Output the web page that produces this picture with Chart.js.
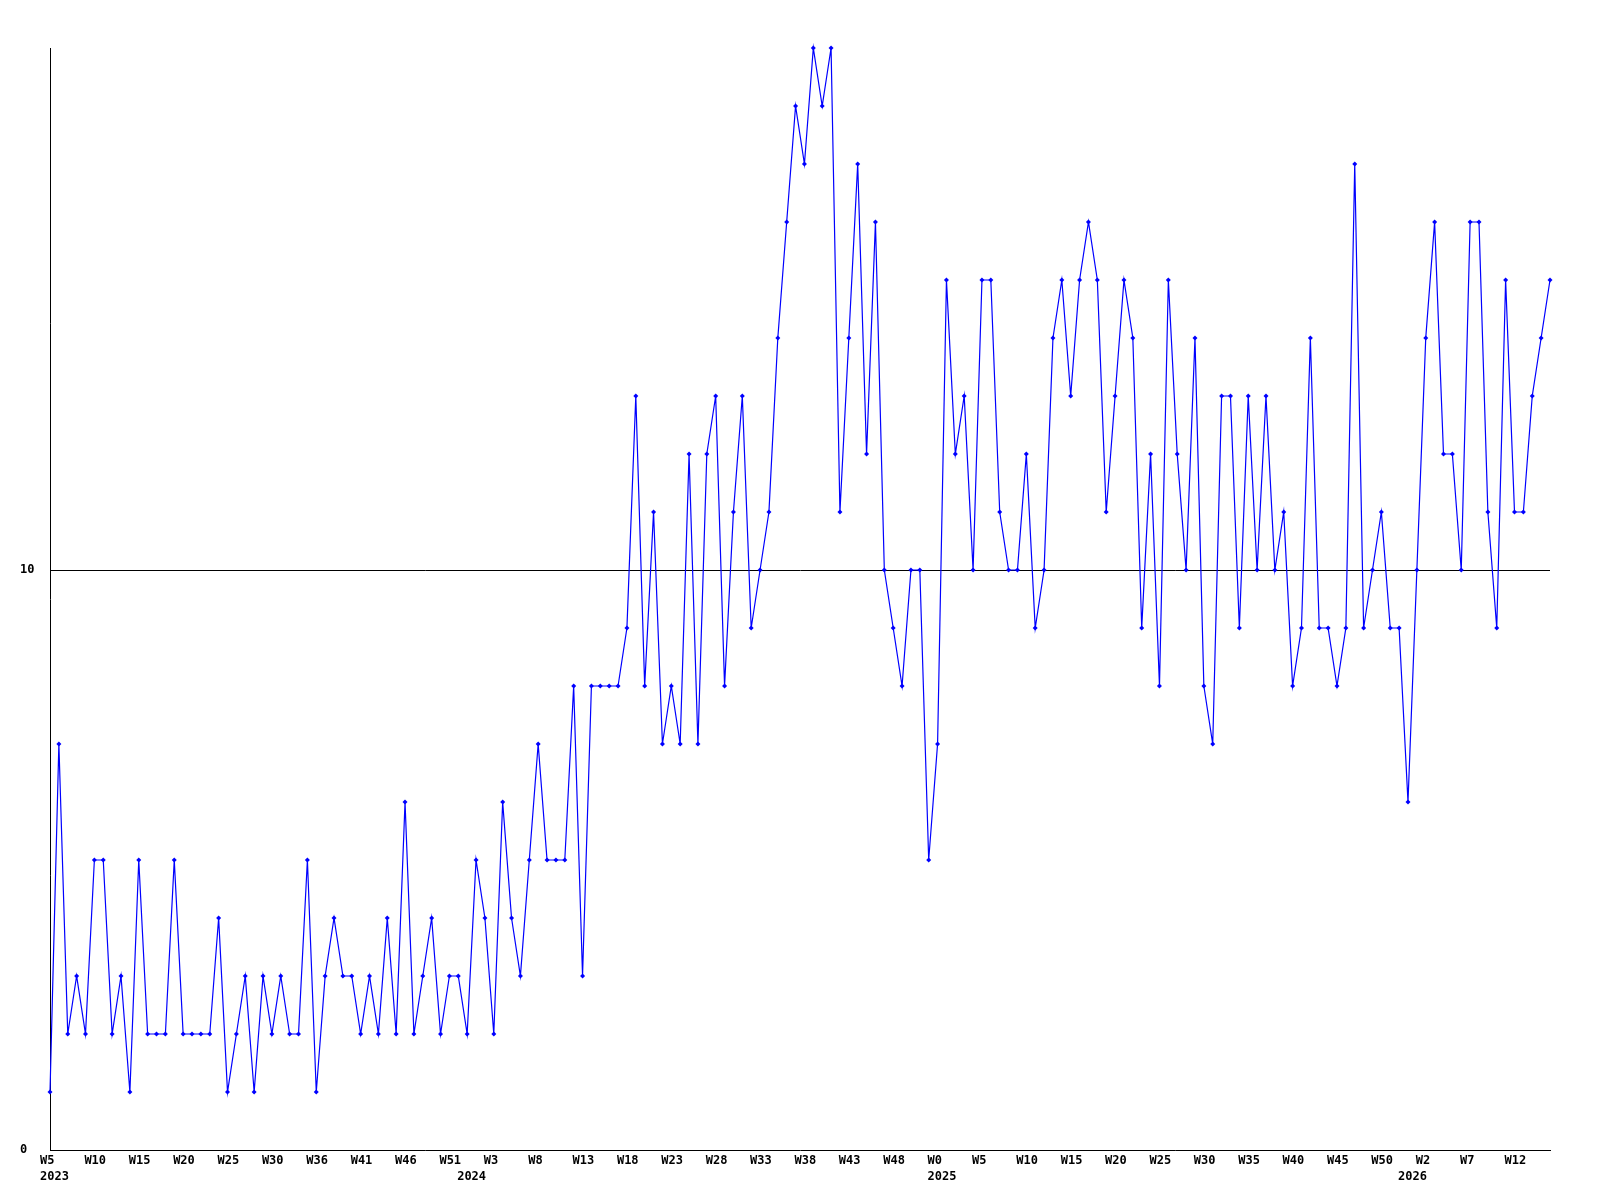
<!DOCTYPE html>
<html>
<head>
<meta charset="utf-8">
<script src="https://cdn.jsdelivr.net/npm/chart.js@4/dist/chart.umd.min.js"></script>
<style>
body { margin: 0; background: #fff; }
canvas { display: block; }
</style>
</head>
<body>
<canvas id="weekChart" width="1600" height="1200"></canvas>
<script>
// weekly counts, 2023 W5 -> 2026 W16
const counts = [
    1, 7, 2, 3, 2, 5, 5, 2, 3, 1, 5, 2, 2, 2, 5, 2, 2, 2,
    2, 4, 1, 2, 3, 1, 3, 2, 3, 2, 2, 5, 1, 3, 4, 3, 3, 2, 3, 2, 4,
    2, 6, 2, 3, 4, 2, 3, 3, 2, 5, 4, 2, 6, 4, 3, 5, 7, 5, 5, 5, 8,
    3, 8, 8, 8, 8, 9, 13, 8, 11, 7, 8, 7, 12, 7, 12, 13, 8, 11, 13, 9, 10, 11,
    14, 16, 18, 17, 19, 18, 19, 11, 14, 17, 12, 16, 10, 9, 8, 10, 10, 5, 7, 15, 12,
    13, 10, 15, 15, 11, 10, 10, 12, 9, 10, 14, 15, 13, 15, 16, 15, 11, 13, 15, 14, 9, 12,
    8, 15, 12, 10, 14, 8, 7, 13, 13, 9, 13, 10, 13, 10, 11, 8, 9, 14, 9, 9, 8,
    9, 17, 9, 10, 11, 9, 9, 6, 10, 14, 16, 12, 12, 10, 16, 16, 11, 9, 15, 11, 11, 13, 14, 15
];

// one week label every 5 points
const weekTicks = [
    'W5', 'W10', 'W15', 'W20', 'W25', 'W30', 'W36', 'W41', 'W46', 'W51',
    'W3', 'W8', 'W13', 'W18', 'W23', 'W28', 'W33', 'W38', 'W43', 'W48',
    'W0', 'W5', 'W10', 'W15', 'W20', 'W25', 'W30', 'W35', 'W40', 'W45', 'W50',
    'W2', 'W7', 'W12'
];
const tickEvery = 5;

// year label sits under the first week of each year
const years = ['2023', '2024', '2025', '2026'];
const yearStart = [0, 47, 100, 153];

const yTicks = [0, 10];
const yMax = 19;

const labels = counts.map((_, i) => {
    const week = i % tickEvery === 0 ? (weekTicks[i / tickEvery] || '') : '';
    const y = yearStart.indexOf(i);
    return [week, y >= 0 ? years[y] : ''];
});

const tickFont = { family: '"DejaVu Sans Mono", monospace', size: 12, weight: 'bold', lineHeight: 1.34 };

new Chart(document.getElementById('weekChart').getContext('2d'), {
    type: 'line',
    data: {
        labels: labels,
        datasets: [{
            data: counts,
            borderColor: '#0000ff',
            backgroundColor: '#0000ff',
            borderWidth: 1.2,
            tension: 0,
            fill: false,
            clip: false,
            pointStyle: 'rectRot',
            pointRadius: 2.5,
            pointBorderWidth: 0
        }]
    },
    options: {
        responsive: false,
        animation: false,
        layout: { padding: { left: 20, right: 50, top: 48, bottom: 0 } },
        plugins: {
            legend: { display: false },
            tooltip: { enabled: false }
        },
        scales: {
            x: {
                offset: false,
                grid: { display: false, drawTicks: false },
                border: { display: true, color: '#000', width: 1 },
                ticks: {
                    autoSkip: false,
                    maxRotation: 0,
                    minRotation: 0,
                    align: 'start',
                    labelOffset: -10,
                    padding: 3,
                    color: '#000',
                    font: tickFont
                },
                afterFit: scale => { scale.height = 50; }
            },
            y: {
                min: 0,
                max: yMax,
                afterBuildTicks: scale => { scale.ticks = yTicks.map(v => ({ value: v })); },
                grid: {
                    drawTicks: false,
                    color: ctx => (ctx.tick && ctx.tick.value === 10) ? '#000' : 'rgba(0,0,0,0)',
                    lineWidth: 1
                },
                border: { display: true, color: '#000', width: 1 },
                ticks: {
                    crossAlign: 'far',
                    padding: 0,
                    color: '#000',
                    font: tickFont
                },
                afterFit: scale => { scale.width = 30; }
            }
        }
    },
    plugins: [{
        id: 'whiteBg',
        beforeDraw: chart => {
            const c = chart.ctx;
            c.save();
            c.fillStyle = '#fff';
            c.fillRect(0, 0, chart.width, chart.height);
            c.restore();
        }
    }]
});
</script>
</body>
</html>
